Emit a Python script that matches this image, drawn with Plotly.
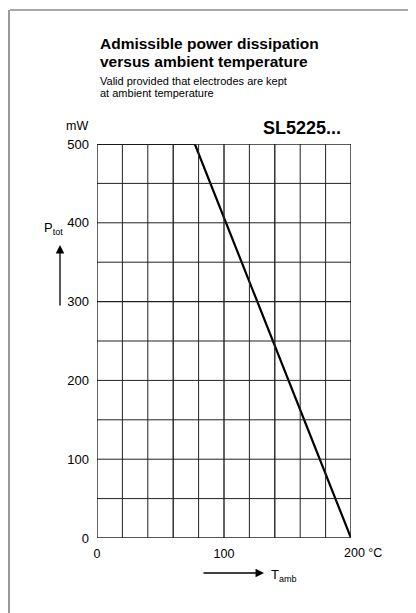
import plotly.graph_objects as go

# ---- data ----
temp_c = [0, 77, 200]          # ambient temperature, °C
p_tot_mw = [500, 500, 0]       # admissible power dissipation, mW
x_ticks = [0, 100]
x_tick_text = ["0", "100"]
y_ticks = [0, 100, 200, 300, 400, 500]
y_tick_text = ["0", "100", "200", "300", "400", "500"]

# page is rendered inside a body with an 8 px margin
OFF = 8
W, H = 416 - OFF, 613 - OFF
L, R, T, B = 97, 351, 144, 538   # plot area in page pixels

def px(x):
    return (x - L) / (R - L)

def py(y):
    return (B - y) / (B - T)

FONT = "Liberation Sans, Arial, sans-serif"

fig = go.Figure()
fig.add_trace(go.Scatter(x=temp_c, y=p_tot_mw, mode="lines",
                         line=dict(color="black", width=2.2),
                         showlegend=False, hoverinfo="skip"))

fig.update_layout(
    width=W, height=H,
    margin=dict(l=L - OFF, r=W - (R - OFF), t=T - OFF, b=H - (B - OFF), pad=0),
    paper_bgcolor="white", plot_bgcolor="white",
    font=dict(family=FONT, color="black", size=12),
    xaxis=dict(range=[0, 200], tickvals=x_ticks, ticktext=x_tick_text,
               showgrid=False, zeroline=False, showline=False,
               ticks="", tickfont=dict(size=12.5), ticklabelstandoff=6),
    yaxis=dict(range=[0, 500], tickvals=y_ticks, ticktext=y_tick_text,
               showgrid=False, zeroline=False, showline=False,
               ticks="", tickfont=dict(size=13), ticklabelstandoff=7),
)

shapes = []
# grid lines
for gx in range(0, 201, 20):
    shapes.append(dict(type="line", xref="x", yref="y", x0=gx, x1=gx, y0=0, y1=500,
                       line=dict(color="#222", width=1.4 if gx in (0, 60, 100, 140, 200) else 1)))
for gy in range(0, 501, 50):
    shapes.append(dict(type="line", xref="x", yref="y", x0=0, x1=200, y0=gy, y1=gy,
                       line=dict(color="#222", width=1.4 if gy in (0, 300, 500) else 1)))
# page frame
shapes.append(dict(type="line", xref="paper", yref="paper", x0=px(10), x1=px(416), y0=py(10), y1=py(10),
                   line=dict(color="#555", width=1.2)))
shapes.append(dict(type="line", xref="paper", yref="paper", x0=px(9), x1=px(9), y0=py(10), y1=py(613),
                   line=dict(color="#555", width=1.2)))
fig.update_layout(shapes=shapes)

def note(text, x, y, size, xanchor="left"):
    return dict(text=text, x=px(x), y=py(y), xref="paper", yref="paper",
                xanchor=xanchor, yanchor="middle", showarrow=False, font=dict(size=size))

ann = [
    note("<b>Admissible power dissipation</b>", 98, 44, 15.5),
    note("<b>versus ambient temperature</b>", 98, 62, 15.5),
    note("Valid provided that electrodes are kept", 98, 81, 11),
    note("at ambient temperature", 98, 93, 11),
    note("<b>SL5225...</b>", 343, 128, 18, "right"),
    note("mW", 64, 126, 12.5),
    note("200 °C", 342, 553, 12.5),
    note("P<sub>tot</sub>", 42, 228, 13),
    note("T<sub>amb</sub>", 269, 575, 13),
]
# arrows
ann.append(dict(text="", x=px(60), y=py(245), xref="paper", yref="paper", showarrow=True,
                ax=0, ay=62, arrowhead=2, arrowsize=1.3, arrowwidth=1.3, arrowcolor="black"))
ann.append(dict(text="", x=px(264), y=py(573), xref="paper", yref="paper", showarrow=True,
                ax=-62, ay=0, arrowhead=2, arrowsize=1.3, arrowwidth=1.3, arrowcolor="black"))
fig.update_layout(annotations=ann)

fig.write_html("out.html")
